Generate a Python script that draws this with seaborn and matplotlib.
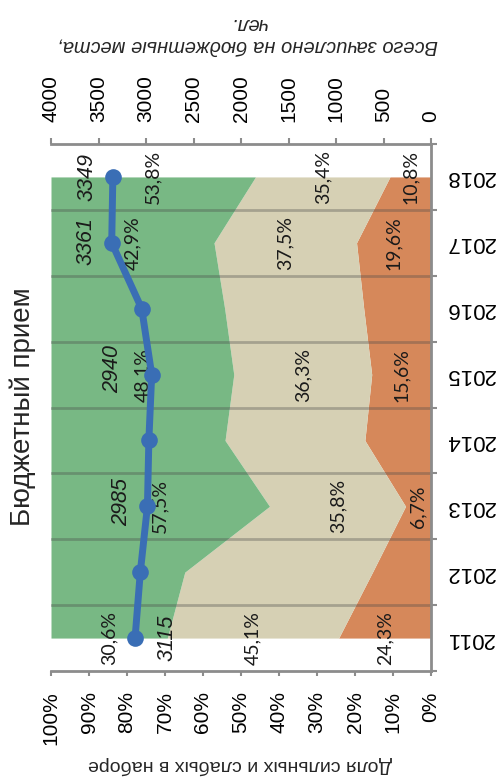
import matplotlib
matplotlib.use("Agg")
import matplotlib.pyplot as plt
import seaborn as sns
import numpy as np
import pandas as pd

# ---------------- data ----------------
years = [2011, 2012, 2013, 2014, 2015, 2016, 2017, 2018]
weak_share = [24.3, 15.4, 6.7, 17.4, 15.6, 17.7, 19.6, 10.8]      # orange
middle_share = [45.1, 49.4, 35.8, 36.8, 36.3, 36.6, 37.5, 35.4]   # beige
strong_share = [30.6, 35.2, 57.5, 45.8, 48.1, 45.7, 42.9, 53.8]   # green
budget_total = [3115, 3060, 2985, 2970, 2940, 3045, 3361, 3349]
labeled_years = [2011, 2013, 2015, 2017, 2018]
pct_ticks = [0, 10, 20, 30, 40, 50, 60, 70, 80, 90, 100]
count_ticks = [0, 500, 1000, 1500, 2000, 2500, 3000, 3500, 4000]

title = "Бюджетный прием"
pct_axis_title = "Доля сильных и слабых в наборе"
count_axis_title = "Всего зачислено на бюджетные места,\nчел."

# ---------------- style ----------------
sns.set_theme(style="white")
plt.rcParams["font.family"] = ["Liberation Sans", "DejaVu Sans"]

c_weak = "#D6885A"
c_mid = "#D6D0B4"
c_strong = "#78B884"
c_line = "#3A6EB5"
c_axis = "#8C8C8C"
count_label_offsets = {2011: (32, 0), 2013: (-26, 4), 2015: (-39, 6),
                       2017: (-26, 2), 2018: (-26, 0)}

W, H = 501, 780
fig = plt.figure(figsize=(W / 100, H / 100), dpi=100)
ax = fig.add_axes([51 / W, 1 - 671 / H, 380 / W, (671 - 144) / H])

yrs = np.array(years, dtype=float)
weak = np.array(weak_share)
mid = np.array(middle_share)
strong = np.array(strong_share)
cum1 = weak
cum2 = weak + mid
cum3 = weak + mid + strong

ax.fill_betweenx(yrs, 0, cum1, color=c_weak, lw=0, zorder=1)
ax.fill_betweenx(yrs, cum1, cum2, color=c_mid, lw=0, zorder=1)
ax.fill_betweenx(yrs, cum2, cum3, color=c_strong, lw=0, zorder=1)

ax.set_xlim(100, 0)
boundaries = np.arange(len(years) + 1) + years[0] - 0.5
ax.set_ylim(boundaries[0], boundaries[-1])

for b in boundaries[1:-1]:
    ax.axhline(b, color="#4a4a4a", alpha=0.35, lw=2, zorder=1.5)

# percent labels
for i, y in enumerate(years):
    if y not in labeled_years:
        continue
    for lo, v in ((0, weak[i]), (cum1[i], mid[i]), (cum2[i], strong[i])):
        ax.text(lo + v / 2, y, f"{v:.1f}%".replace(".", ","), rotation=90,
                ha="center", va="center", fontsize=14, family=["Lato", "DejaVu Sans"],
                color="#1a1a1a", zorder=3)

# axes styling (primary)
ax.spines["left"].set_visible(False)
ax.spines["top"].set_visible(False)
for s in ("right", "bottom"):
    ax.spines[s].set_color(c_axis)
    ax.spines[s].set_linewidth(2)

ax.set_xticks(pct_ticks)
ax.set_xticklabels([f"{t}%" for t in pct_ticks], rotation=90)
ax.tick_params(axis="x", bottom=True, length=3.6, width=1.5, color=c_axis,
               pad=11, labelsize=15, labelcolor="black")

ax.yaxis.tick_right()
ax.set_yticks(boundaries)
ax.set_yticklabels([])
ax.set_yticks(years, minor=True)
ax.set_yticklabels([str(y) for y in years], minor=True, rotation=180, va="center")
ax.tick_params(axis="y", which="major", right=True, left=False, length=4.3,
               width=1.5, color=c_axis)
ax.tick_params(axis="y", which="minor", right=True, left=False, length=0,
               pad=10.5, labelsize=16, labelcolor="black")
ax.set_xlabel("")
ax.set_ylabel("")

# secondary axis with the line
ax2 = ax.twiny()
df = pd.DataFrame({"year": years, "total": budget_total})
sns.lineplot(data=df, x="total", y="year", orient="y", sort=True, ax=ax2,
             color=c_line, linewidth=5, marker="o", markersize=12,
             markeredgewidth=0, zorder=4)
ax2.set_xlim(4000, 0)
ax2.set_ylim(boundaries[0], boundaries[-1])
ax2.set_xlabel("")
ax2.set_ylabel("")
for s in ("left", "right", "bottom"):
    ax2.spines[s].set_visible(False)
ax2.spines["top"].set_color(c_axis)
ax2.spines["top"].set_linewidth(2)
ax2.set_xticks(count_ticks)
ax2.set_xticklabels([str(t) for t in count_ticks], rotation=90)
ax2.tick_params(axis="x", top=True, bottom=False, length=4.3, width=1.5,
                color=c_axis, pad=11.5, labelsize=15, labelcolor="black")

for i, y in enumerate(years):
    if y not in labeled_years:
        continue
    dx, dy = count_label_offsets[y]
    ax2.annotate(str(budget_total[i]), (budget_total[i], y), xytext=(dx, dy),
                 textcoords="offset pixels", rotation=90, ha="center", va="center",
                 fontsize=15.5, style="italic", color="#1a1a1a", zorder=5)

# titles
fig.text(23 / W, 1 - 407 / H, title, rotation=90, fontsize=20,
         ha="center", va="center")
fig.text(248 / W, 1 - 35 / H, count_axis_title, rotation=180, fontsize=14.5,
         style="italic", ha="center", va="center", multialignment="center")
fig.text(240 / W, 1 - 765 / H, pct_axis_title, rotation=180, fontsize=14,
         ha="center", va="center")

fig.savefig("out.png", dpi=100)
